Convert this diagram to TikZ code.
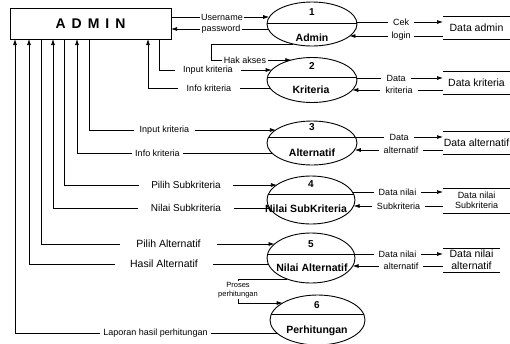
\documentclass[tikz,border=0pt]{standalone}
\usepackage{fontspec}
\setmainfont{Liberation Sans}
\usetikzlibrary{shapes.geometric,arrows.meta}
\begin{document}
\begin{tikzpicture}[x=1pt,y=-1pt,
  arr/.style={line width=0.7pt,-{Latex[length=6pt,width=4pt]}},
  lab/.style={inner ysep=0pt, inner xsep=3pt, font=\fontsize{9}{10}\selectfont, align=center},
  labm/.style={lab, font=\fontsize{10.5}{12}\selectfont},
  labr/.style={lab, inner xsep=5pt},
  divider/.style={path picture={\draw[line width=0.8pt] ([yshift=#1]path picture bounding box.west) -- ([yshift=#1]path picture bounding box.east);}},
  proc/.style n args={3}{ellipse, draw, line width=0.9pt, outer sep=0pt, inner sep=0pt,
     minimum width=#1pt, minimum height=#2pt, divider=#3pt},
  pnum/.style={inner sep=0pt, font=\fontsize{10}{12}\selectfont\bfseries},
  pname/.style={inner sep=0pt, font=\fontsize{10.5}{12}\selectfont\bfseries},
  store/.style={minimum height=23pt, minimum width=67pt, inner sep=0pt, outer sep=0pt,
     align=center, font=\fontsize{10.5}{12}\selectfont},
  storeline/.style={line width=0.8pt}
]
\useasboundingbox (0,0) rectangle (510,343);

% ADMIN entity
\node[draw, line width=0.9pt, minimum width=161pt, minimum height=31pt, inner sep=0pt, outer sep=0pt,
      font=\fontsize{14}{16}\selectfont\bfseries] (admin) at (90.5,23.5)
      {A\hspace{6pt}D\hspace{6pt}M\hspace{6pt}I\hspace{6pt}N};

% processes
\node[proc={90}{44}{1}] (p1) at (312,24) {};
\node[pnum] (p1n) at (312,12) {1};
\node[pname] (p1t) at (312,38) {Admin};

\node[proc={90}{45}{3}] (p2) at (312,80) {};
\node[pnum] (p2n) at (312,66) {2};
\node[pname] (p2t) at (311,90) {Kriteria};

\node[proc={90}{44}{6}] (p3) at (312,143) {};
\node[pnum] (p3n) at (312,127) {3};
\node[pname] (p3t) at (312,153) {Alternatif};

\node[proc={88}{48}{6}] (p4) at (311,200) {};
\node[pnum] (p4n) at (311,184) {4};
\node[pname] (p4t) at (306,209) {Nilai SubKriteria};

\node[proc={88}{50}{4}] (p5) at (311,258) {};
\node[pnum] (p5n) at (311,244) {5};
\node[pname] (p5t) at (312,268) {Nilai Alternatif};

\node[proc={95}{50}{6}] (p6) at (317.5,320) {};
\node[pnum] (p6n) at (317,305) {6};
\node[pname] (p6t) at (317,331) {Perhitungan};

% data stores
\node[store] (s1) at (476.5,27.5) {Data admin};
\node[store] (s2) at (476.5,82.5) {Data kriteria};
\node[store] (s3) at (476.5,142.5) {Data alternatif};
\node[store, minimum height=25pt, font=\fontsize{9}{10.5}\selectfont] (s4) at (476.5,200.5) {Data nilai\\Subkriteria};
\node[store, minimum width=57pt, minimum height=24pt] (s5) at (471.5,260) {Data nilai\\alternatif};
\foreach \s in {s1,s2,s3,s4,s5}
  \draw[storeline] (\s.north west) -- (\s.north east) (\s.south west) -- (\s.south east);

% ADMIN <-> process 1
\node[lab, inner xsep=1.5pt] (un) at (222,17) {Username};
\draw[arr] (un -| admin.east) -- (un) -- (un -| p1.171);
\node[lab, inner xsep=2pt] (pw) at (221,29) {password};
\draw[arr] (pw -| p1.187) -- (pw) -- (pw -| admin.east);

% process 1 -> process 2 (Hak akses)
\coordinate (hakx) at (211,44);
\node[lab, inner xsep=2pt] (hak) at (245,60) {Hak akses};
\draw[arr] (p1.227) -- (p1.227 -| hakx) |- (hak) -- (hak -| p2.136);

% process 2
\node[lab, inner xsep=8pt] (ik2) at (208,70) {Input kriteria};
\draw[arr] ([xshift=149pt]admin.south west) |- (ik2) -- (ik2 -| p2.166);
\node[lab, inner xsep=9pt] (if2) at (209,88) {Info kriteria};
\draw[arr] (if2 -| p2.191) -- (if2) -| ([xshift=138pt]admin.south west);

% process 3
\node[lab, inner xsep=6pt] (ik3) at (164.5,130) {Input kriteria};
\draw[arr] ([xshift=79pt]admin.south west) |- (ik3) -- (ik3 -| p3.160);
\node[lab, inner xsep=3pt] (if3) at (157.5,153) {Info kriteria};
\draw[arr] (if3 -| p3.194) -- (if3) -| ([xshift=67pt]admin.south west);

% process 4
\node[labm, font=\fontsize{10}{12}\selectfont, inner xsep=12pt] (ps4) at (186,185) {Pilih Subkriteria};
\draw[arr] ([xshift=54pt]admin.south west) |- (ps4) -- (ps4 -| p4.156);
\node[labm, font=\fontsize{10}{12}\selectfont, inner xsep=13pt] (ns4) at (186,208) {Nilai Subkriteria};
\draw[arr] (ns4 -| p4.191) -- (ns4) -| ([xshift=43pt]admin.south west);

% process 5
\node[labm, inner xsep=16pt] (pa5) at (168.5,244) {Pilih Alternatif};
\draw[arr] ([xshift=31pt]admin.south west) |- (pa5) -- (pa5 -| p5.159);
\node[labm, inner xsep=15pt] (ha5) at (164,264) {Hasil Alternatif};
\draw[arr] (ha5 -| p5.188) -- (ha5) -| ([xshift=19pt]admin.south west);

% process 5 -> process 6
\node[lab, font=\fontsize{7.5}{9.5}\selectfont, inner ysep=1pt] (pp) at (238,290) {Proses\\perhitungan};
\draw[arr] (p5.221) -| (pp) |- (p6.154);

% process 6 -> ADMIN
\node[lab, inner xsep=3pt] (lap) at (155.5,333) {Laporan hasil perhitungan};
\draw[arr] (lap -| p6.198) -- (lap) -| ([xshift=5pt]admin.south west);

% process <-> stores
\node[labr] (cek) at (401,22) {Cek};
\draw[arr] (cek -| p1.3) -- (cek) -- (cek -| s1.west);
\node[labr, inner xsep=3pt] (login) at (401,36) {login};
\draw[arr] (login -| s1.west) -- (login) -- (login -| p1.342);

\node[labr] (d2) at (396,78) {Data};
\draw[arr] (d2 -| p2.3) -- (d2) -- (d2 -| s2.west);
\node[labr] (k2) at (399,90) {kriteria};
\draw[arr] (k2 -| s2.west) -- (k2) -- (k2 -| p2.346);

\node[labr] (d3) at (399,137) {Data};
\draw[arr] (d3 -| p3.8) -- (d3) -- (d3 -| s3.west);
\node[labr] (a3) at (401,150) {alternatif};
\draw[arr] (a3 -| s3.west) -- (a3) -- (a3 -| p3.351);

\node[labr] (d4) at (397.5,192) {Data nilai};
\draw[arr] (d4 -| p4.11) -- (d4) -- (d4 -| s4.west);
\node[labr] (sk4) at (398.5,206) {Subkriteria};
\draw[arr] (sk4 -| s4.west) -- (sk4) -- (sk4 -| p4.352);

\node[labr] (d5) at (397.5,254) {Data nilai};
\draw[arr] (d5 -| p5.5) -- (d5) -- (d5 -| s5.west);
\node[labr] (a5) at (401,266) {alternatif};
\draw[arr] (a5 -| s5.west) -- (a5) -- (a5 -| p5.349);
\end{tikzpicture}
\end{document}
